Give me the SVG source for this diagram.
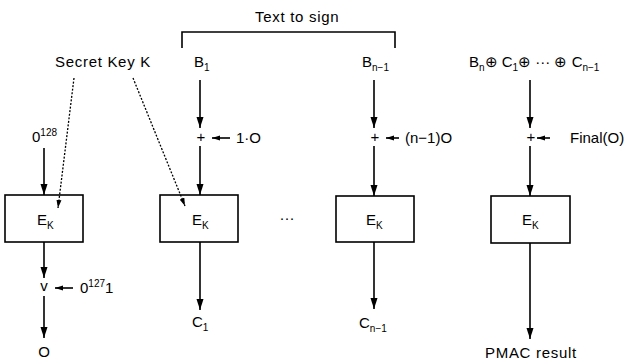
<svg xmlns="http://www.w3.org/2000/svg" width="630" height="361" viewBox="0 0 630 361">
<style>
text{font-family:"Liberation Sans",Arial,sans-serif;font-size:15px;fill:#000}
.lbl{letter-spacing:0.7px}
.sub{font-size:10px}
.c{text-anchor:middle}
.ln{stroke:#000;stroke-width:1.6;fill:none}
.dot{stroke:#000;stroke-width:1.3;fill:none;stroke-dasharray:2 1.6}
.box{fill:#fff;stroke:#000;stroke-width:1.6}
</style>
<defs>
<marker id="ah" markerUnits="userSpaceOnUse" markerWidth="11" markerHeight="8" refX="11" refY="4" orient="auto">
<path d="M0,0.5 L11,4 L0,7.5 z" fill="#000"/>
</marker>
<marker id="as" markerUnits="userSpaceOnUse" markerWidth="8" markerHeight="6" refX="8" refY="3" orient="auto">
<path d="M0,0.5 L8,3 L0,5.5 z" fill="#000"/>
</marker>
</defs>
<rect width="630" height="361" fill="#fff"/>

<g id="bracket">
<text x="255" y="22" class="lbl">Text to sign</text>
<path class="ln" d="M182,48 V32 H395 V48"/>
</g>

<g id="secretkey">
<text x="55" y="67" class="lbl">Secret Key K</text>
</g>

<g id="col1">
<text x="32" y="142">0<tspan class="sub" dy="-6">128</tspan></text>
<rect id="box1" class="box" x="5" y="195" width="78" height="47"/>
<text x="37" y="225">E<tspan class="sub" dy="4">K</tspan></text>
<text x="44" y="291" class="c">v</text>
<text x="80" y="293">0<tspan class="sub" dy="-6">127</tspan><tspan dy="6">1</tspan></text>
<text x="44" y="357" class="c">O</text>
</g>

<g id="col2">
<text x="194" y="67">B<tspan class="sub" dy="4">1</tspan></text>
<text x="201" y="142" class="c">+</text>
<text x="236" y="143">1·O</text>
<rect id="box2" class="box" x="160" y="195" width="78" height="47"/>
<text x="192" y="225">E<tspan class="sub" dy="4">K</tspan></text>
<text x="192" y="327">C<tspan class="sub" dy="4">1</tspan></text>
</g>

<g id="ellipsis">
<text x="287" y="223" class="c">···</text>
</g>

<g id="col3">
<text x="362" y="67">B<tspan class="sub" dy="4">n−1</tspan></text>
<text x="375" y="142" class="c">+</text>
<text x="405" y="143">(n−1)O</text>
<rect id="box3" class="box" x="336" y="196" width="78" height="46"/>
<text x="366" y="225">E<tspan class="sub" dy="4">K</tspan></text>
<text x="359" y="328">C<tspan class="sub" dy="4">n−1</tspan></text>
</g>

<g id="col4">
<text x="469" y="67">B<tspan class="sub" dy="4">n</tspan><tspan dy="-4">⊕ C</tspan><tspan class="sub" dy="4">1</tspan><tspan dy="-4">⊕ ··· ⊕ C</tspan><tspan class="sub" dy="4">n−1</tspan></text>
<text x="531" y="142" class="c">+</text>
<text x="570" y="143">Final(O)</text>
<rect id="box4" class="box" x="491" y="196" width="79" height="47"/>
<text x="522" y="225">E<tspan class="sub" dy="4">K</tspan></text>
<text x="485" y="358" class="lbl">PMAC result</text>
</g>

<g id="connectors">
<path class="ln" d="M44,148 V195" marker-end="url(#ah)"/>
<path class="ln" d="M44,242 V278" marker-end="url(#ah)"/>
<path class="ln" d="M73,288 H55" marker-end="url(#as)"/>
<path class="ln" d="M44,296 V338" marker-end="url(#ah)"/>
<path class="dot" d="M74,78 L58,208" marker-end="url(#as)"/>
<path class="dot" d="M133,78 L185,206" marker-end="url(#as)"/>

<path class="ln" d="M200,80 V128" marker-end="url(#ah)"/>
<path class="ln" d="M230,138 H212" marker-end="url(#as)"/>
<path class="ln" d="M200,146 V195" marker-end="url(#ah)"/>
<path class="ln" d="M200,242 V310" marker-end="url(#ah)"/>

<path class="ln" d="M374,80 V128" marker-end="url(#ah)"/>
<path class="ln" d="M399,138 H386" marker-end="url(#as)"/>
<path class="ln" d="M374,146 V196" marker-end="url(#ah)"/>
<path class="ln" d="M374,242 V309" marker-end="url(#ah)"/>

<path class="ln" d="M530,80 V128" marker-end="url(#ah)"/>
<path class="ln" d="M550,138 H537" marker-end="url(#as)"/>
<path class="ln" d="M530,146 V196" marker-end="url(#ah)"/>
<path class="ln" d="M530,243 V339" marker-end="url(#ah)"/>
</g>
</svg>
